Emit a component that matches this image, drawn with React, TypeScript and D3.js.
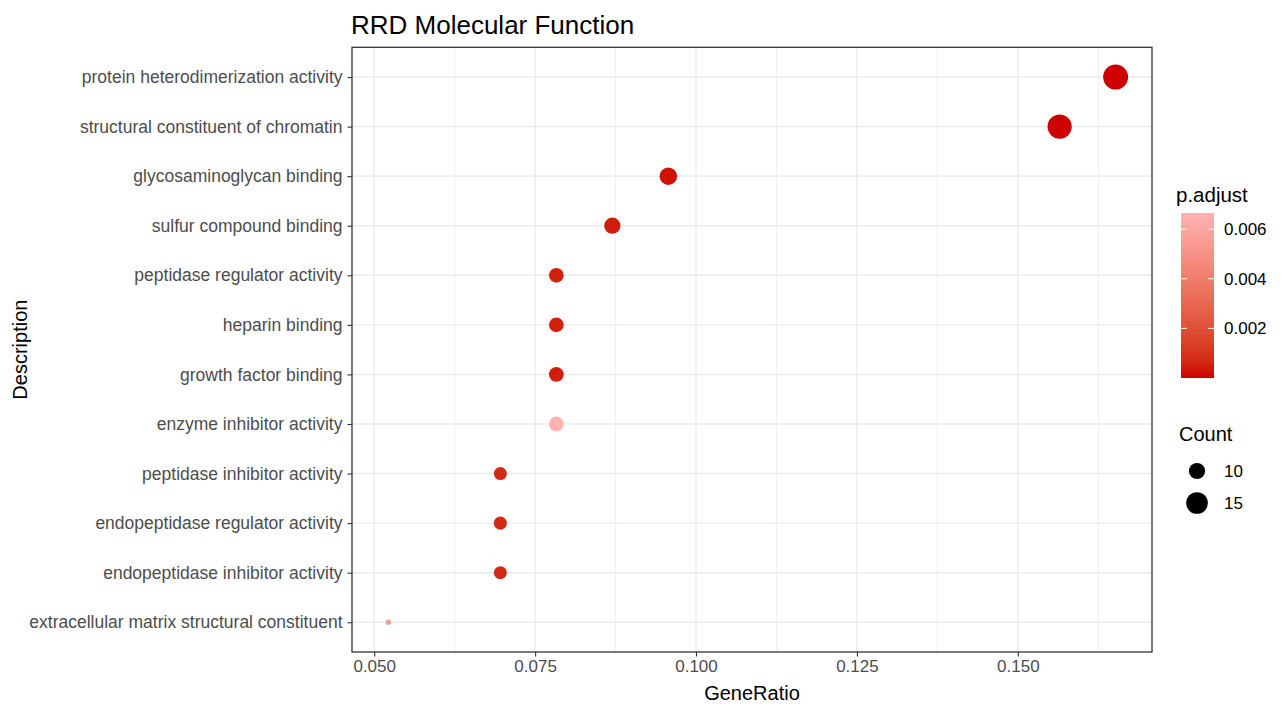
import React, { useEffect, useRef } from 'react';
import * as d3 from 'd3';

// GO terms, top to bottom
const descriptions = [
  'protein heterodimerization activity',
  'structural constituent of chromatin',
  'glycosaminoglycan binding',
  'sulfur compound binding',
  'peptidase regulator activity',
  'heparin binding',
  'growth factor binding',
  'enzyme inhibitor activity',
  'peptidase inhibitor activity',
  'endopeptidase regulator activity',
  'endopeptidase inhibitor activity',
  'extracellular matrix structural constituent',
];
const geneRatios = [0.1652, 0.1565, 0.0957, 0.087, 0.0783, 0.0783, 0.0783, 0.0783, 0.0696, 0.0696, 0.0696, 0.0522];
const counts = [19, 18, 11, 10, 9, 9, 9, 9, 8, 8, 8, 6];
const pAdjust = [0.0000001, 0.0000002, 0.0002, 0.0004, 0.0005, 0.0005, 0.0004, 0.00665, 0.0007, 0.0007, 0.0007, 0.0055];

const xTicks = [0.05, 0.075, 0.1, 0.125, 0.15];
const pTicks = [0.002, 0.004, 0.006];
const countBreaks = [10, 15];

const FONT = '"Liberation Sans", Arial, sans-serif';

const App = () => {
  const svgRef = useRef<SVGSVGElement>(null);

  useEffect(() => {
    const svg = d3.select(svgRef.current);
    svg.selectAll('*').remove();

    const panel = { left: 352, right: 1152, top: 47.3, bottom: 652 };

    const rows = descriptions.map((d, i) => ({
      desc: d,
      ratio: geneRatios[i],
      count: counts[i],
      p: pAdjust[i],
    }));

    // ggplot-like 5% expansion
    const [xmin, xmax] = d3.extent(geneRatios) as [number, number];
    const pad = (xmax - xmin) * 0.05;
    const x = d3.scaleLinear().domain([xmin - pad, xmax + pad]).range([panel.left, panel.right]);
    const y = d3.scalePoint<string>().domain(descriptions).range([panel.top, panel.bottom]).padding(0.6);

    const [cmin, cmax] = d3.extent(counts) as [number, number];
    const rScale = d3.scaleLinear().domain([0, 1]).range([2.65, 12.5]);
    const radius = (c: number) => rScale(Math.sqrt((c - cmin) / (cmax - cmin)));

    const [pmin, pmax] = d3.extent(pAdjust) as [number, number];
    const color = d3
      .scaleLinear<string>()
      .domain([pmin, pmax])
      .range(['#CC0000', '#FFB3B3'])
      .interpolate(d3.interpolateLab);

    // panel background + grid
    svg.append('rect')
      .attr('x', panel.left).attr('y', panel.top)
      .attr('width', panel.right - panel.left).attr('height', panel.bottom - panel.top)
      .attr('fill', '#fff');

    const minorTicks = d3.range(0.0625, 0.17, 0.025);
    svg.append('g').selectAll('line')
      .data(minorTicks)
      .enter().append('line')
      .attr('x1', (d) => x(d)).attr('x2', (d) => x(d))
      .attr('y1', panel.top).attr('y2', panel.bottom)
      .attr('stroke', '#EBEBEB').attr('stroke-width', 0.8);

    svg.append('g').selectAll('line')
      .data(xTicks)
      .enter().append('line')
      .attr('x1', (d) => x(d)).attr('x2', (d) => x(d))
      .attr('y1', panel.top).attr('y2', panel.bottom)
      .attr('stroke', '#EBEBEB').attr('stroke-width', 1.4);

    svg.append('g').selectAll('line')
      .data(descriptions)
      .enter().append('line')
      .attr('x1', panel.left).attr('x2', panel.right)
      .attr('y1', (d) => y(d)!).attr('y2', (d) => y(d)!)
      .attr('stroke', '#EBEBEB').attr('stroke-width', 1.4);

    // points
    svg.append('g').selectAll('circle')
      .data(rows)
      .enter().append('circle')
      .attr('cx', (d) => x(d.ratio))
      .attr('cy', (d) => y(d.desc)!)
      .attr('r', (d) => radius(d.count))
      .attr('fill', (d) => color(d.p));

    // border
    svg.append('rect')
      .attr('x', panel.left).attr('y', panel.top)
      .attr('width', panel.right - panel.left).attr('height', panel.bottom - panel.top)
      .attr('fill', 'none').attr('stroke', '#333333').attr('stroke-width', 1.3);

    // x axis
    const xAxis = svg.append('g')
      .attr('transform', `translate(0,${panel.bottom})`)
      .call(d3.axisBottom(x).tickValues(xTicks).tickFormat(d3.format('.3f')).tickSize(4.5).tickPadding(3));
    xAxis.select('.domain').remove();
    xAxis.selectAll('line').attr('stroke', '#333333').attr('stroke-width', 1.1);
    xAxis.selectAll('text')
      .attr('fill', '#4D4D4D')
      .style('font-family', FONT)
      .style('font-size', '17px');

    // y axis
    const yAxis = svg.append('g')
      .attr('transform', `translate(${panel.left},0)`)
      .call(d3.axisLeft(y).tickSize(4.5).tickPadding(5));
    yAxis.select('.domain').remove();
    yAxis.selectAll('line').attr('stroke', '#333333').attr('stroke-width', 1.1);
    yAxis.selectAll('text')
      .attr('fill', '#4D4D4D')
      .style('font-family', FONT)
      .style('font-size', '17.5px');

    // titles
    svg.append('text')
      .attr('x', panel.left - 1).attr('y', 34)
      .style('font-family', FONT).style('font-size', '26px')
      .attr('fill', '#000')
      .text('RRD Molecular Function');

    svg.append('text')
      .attr('x', (panel.left + panel.right) / 2).attr('y', 700)
      .attr('text-anchor', 'middle')
      .style('font-family', FONT).style('font-size', '20px')
      .text('GeneRatio');

    svg.append('text')
      .attr('transform', `translate(27,${(panel.top + panel.bottom) / 2}) rotate(-90)`)
      .attr('text-anchor', 'middle')
      .style('font-family', FONT).style('font-size', '20px')
      .text('Description');

    // colour legend
    const bar = { x: 1181, y: 213, w: 33, h: 165 };
    const gradient = svg.append('defs').append('linearGradient')
      .attr('id', 'padj-gradient')
      .attr('x1', '0%').attr('x2', '0%').attr('y1', '100%').attr('y2', '0%');
    d3.range(0, 1.0001, 0.1).forEach((t) => {
      gradient.append('stop')
        .attr('offset', `${t * 100}%`)
        .attr('stop-color', color(pmin + t * (pmax - pmin)));
    });

    svg.append('text')
      .attr('x', 1176).attr('y', 202)
      .style('font-family', FONT).style('font-size', '20.5px')
      .text('p.adjust');

    svg.append('rect')
      .attr('x', bar.x).attr('y', bar.y)
      .attr('width', bar.w).attr('height', bar.h)
      .attr('fill', 'url(#padj-gradient)');

    const pScale = d3.scaleLinear().domain([pmin, pmax]).range([bar.y + bar.h, bar.y]);
    const pLeg = svg.append('g');
    pTicks.forEach((t) => {
      const ty = pScale(t);
      pLeg.append('line')
        .attr('x1', bar.x).attr('x2', bar.x + 6).attr('y1', ty).attr('y2', ty)
        .attr('stroke', '#fff').attr('stroke-width', 1);
      pLeg.append('line')
        .attr('x1', bar.x + bar.w - 6).attr('x2', bar.x + bar.w).attr('y1', ty).attr('y2', ty)
        .attr('stroke', '#fff').attr('stroke-width', 1);
      pLeg.append('text')
        .attr('x', 1224).attr('y', ty + 6)
        .style('font-family', FONT).style('font-size', '17px')
        .text(d3.format('.3f')(t));
    });

    // size legend
    svg.append('text')
      .attr('x', 1179).attr('y', 441)
      .style('font-family', FONT).style('font-size', '20px')
      .text('Count');

    const cy = d3.scalePoint<number>().domain(countBreaks).range([471, 503]);
    const cLeg = svg.append('g');
    countBreaks.forEach((c) => {
      cLeg.append('circle')
        .attr('cx', 1197).attr('cy', cy(c)!)
        .attr('r', radius(c))
        .attr('fill', '#000');
      cLeg.append('text')
        .attr('x', 1224).attr('y', cy(c)! + 6)
        .style('font-family', FONT).style('font-size', '17px')
        .text(c);
    });
  }, []);

  return (
    <div style={{ position: 'absolute', left: 0, top: 0, background: '#fff' }}>
      <svg ref={svgRef} width={1285} height={706} style={{ display: 'block' }} />
    </div>
  );
};

export default App;
